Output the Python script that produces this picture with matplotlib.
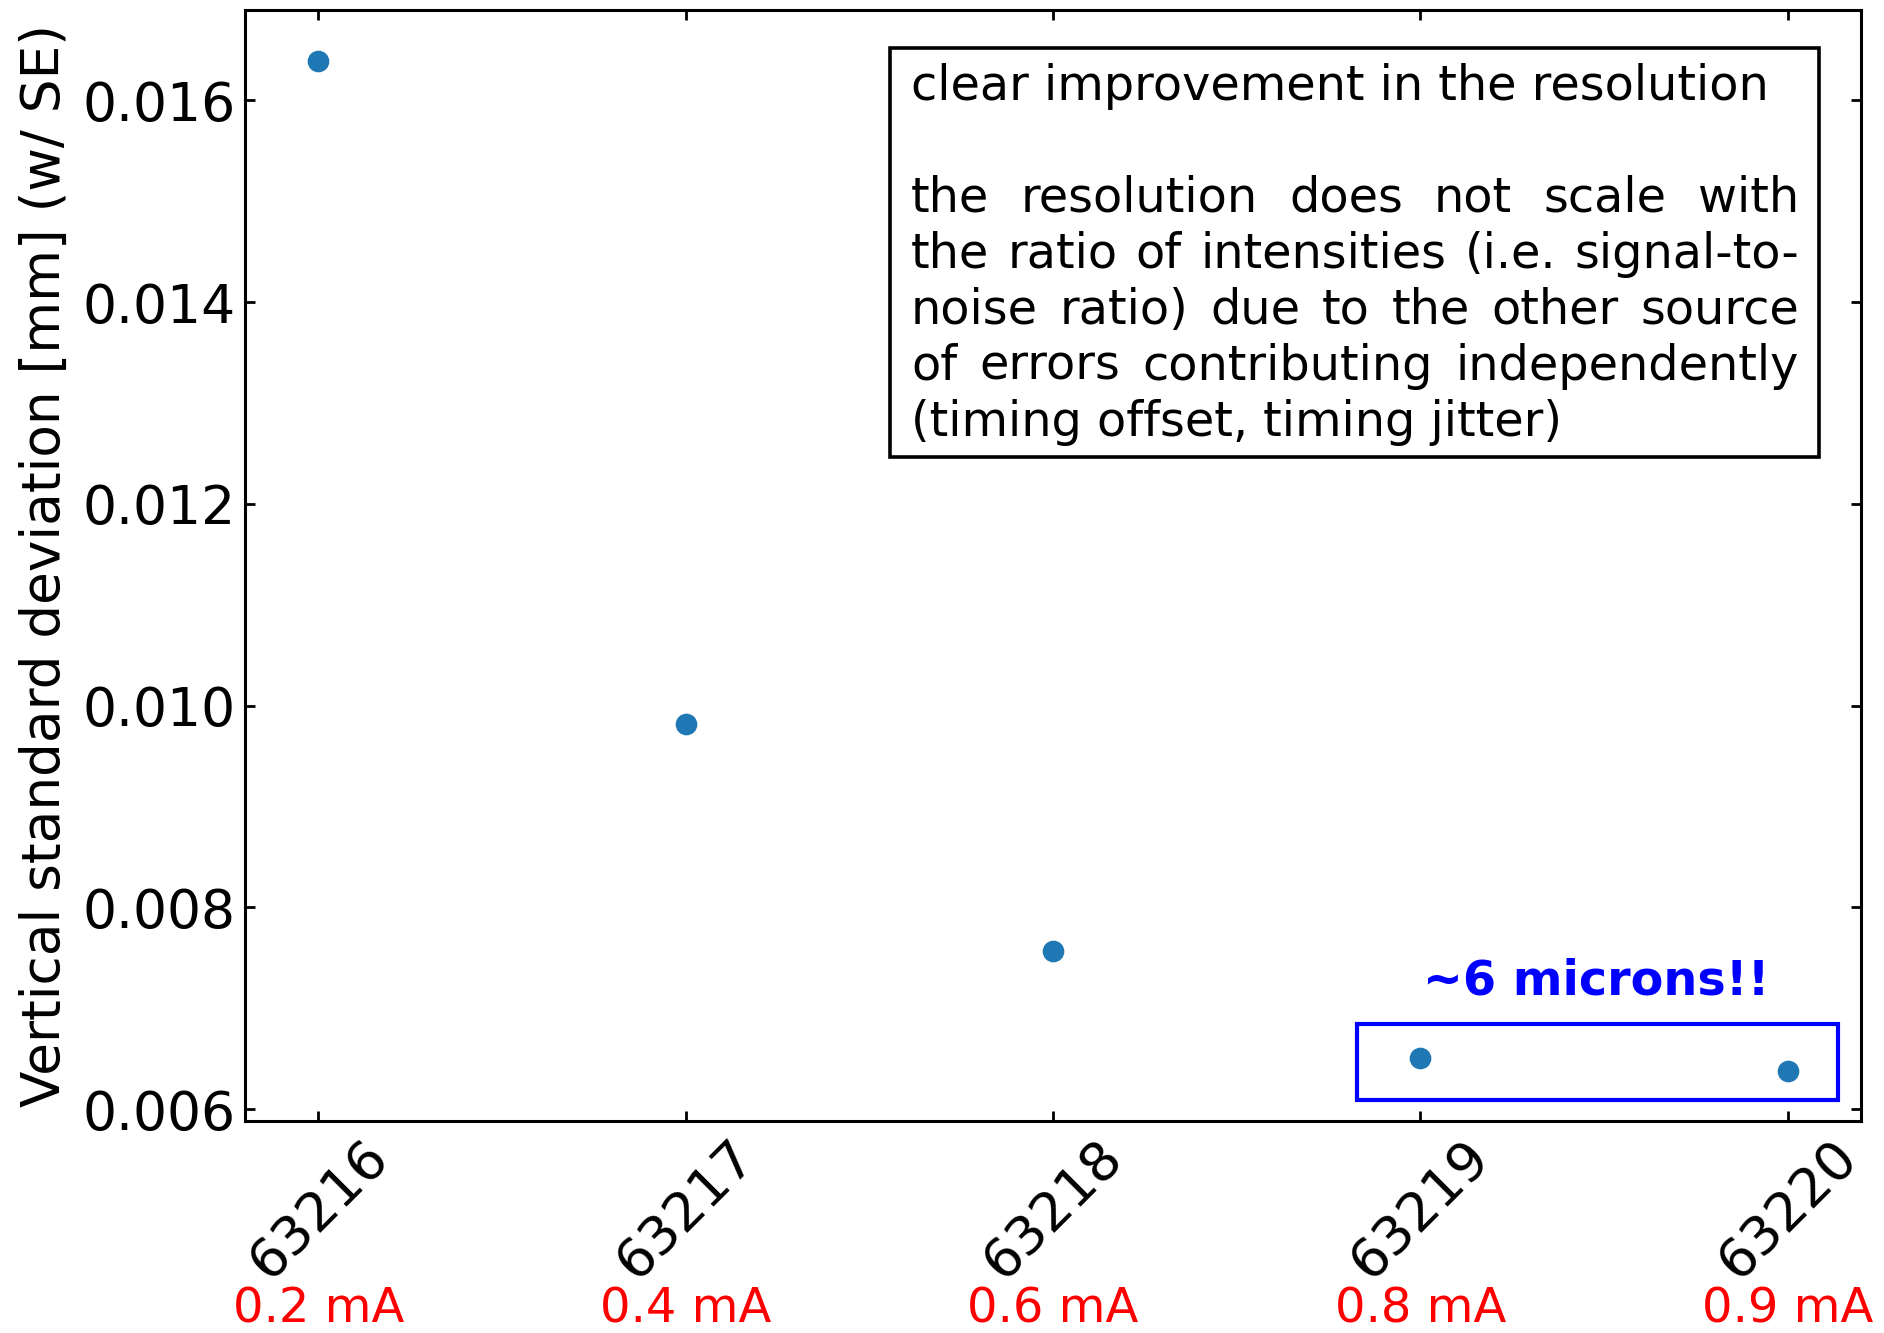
import numpy as np
import matplotlib
matplotlib.use('Agg')
import matplotlib.pyplot as plt
from matplotlib.patches import Rectangle
from matplotlib.transforms import blended_transform_factory

runs = ['63216', '63217', '63218', '63219', '63220']
currents = ['0.2 mA', '0.4 mA', '0.6 mA', '0.8 mA', '0.9 mA']
sigma_y = [0.016395, 0.009816, 0.007567, 0.006502, 0.006383]

note_lines = [
    ('clear improvement in the resolution', False),
    ('', False),
    ('the resolution does not scale with', True),
    ('the ratio of intensities (i.e. signal-to-', True),
    ('noise ratio) due to the other source', True),
    ('of errors contributing independently', True),
    ('(timing offset, timing jitter)', False),
]

W, H = 1884, 1333
fig = plt.figure(figsize=(W / 200, H / 200), dpi=200)
ax = fig.add_axes([245 / W, (H - 1121) / H, 1616 / W, 1111 / H])

x = np.arange(len(runs))
ax.plot(x, sigma_y, 'o', color='#1f77b4', markersize=6.8, linestyle='none')

ax.set_xticks(x)
ax.set_xticklabels(runs, rotation=45, fontsize=19.5)
ax.set_yticks([0.006, 0.008, 0.010, 0.012, 0.014, 0.016])
ax.set_yticklabels(['%.3f' % v for v in ax.get_yticks()], fontsize=19.3)
ax.tick_params(direction='in', top=True, right=True, length=3.6, width=1.0)
for s in ax.spines.values():
    s.set_linewidth(1.1)
ax.set_ylabel('Vertical standard deviation [mm] (w/ SE)', fontsize=19.2)

# beam current under each run number
trans = blended_transform_factory(ax.transData, ax.transAxes)
for xi, c in zip(x, currents):
    ax.text(xi, -0.181, c, color='red', fontsize=17.3, ha='center',
            va='baseline', transform=trans)

# highlight of the two high-current runs
ax.add_patch(Rectangle((2.827, 0.006086), 4.138 - 2.827, 0.006843 - 0.006086,
                       fill=False, edgecolor='blue', linewidth=1.5))
ax.text(3.48, 0.00727, '~6 microns!!', color='blue', fontsize=17.2,
        fontweight='bold', ha='center', va='center')

# comment box with justified text
ax.add_patch(Rectangle((0.399, 0.598), 0.974 - 0.399, 0.966 - 0.598,
                       transform=ax.transAxes, fill=False, edgecolor='black',
                       linewidth=1.3))
x_left, x_right = 0.4121, 0.9616
renderer = fig.canvas.get_renderer()
ax_w = ax.get_window_extent(renderer).width
for k, (line, justify) in enumerate(note_lines):
    if not line:
        continue
    yb = (1121 - (100 + 56 * k)) / 1111
    if not justify:
        ax.text(x_left, yb, line, fontsize=17.2, ha='left', va='baseline',
                transform=ax.transAxes)
        continue
    words = line.split(' ')
    objs = [ax.text(0, yb, w, fontsize=17.2, ha='left', va='baseline',
                    transform=ax.transAxes) for w in words]
    widths = [t.get_window_extent(renderer).width / ax_w for t in objs]
    gap = (x_right - x_left - sum(widths)) / (len(words) - 1)
    pos = x_left
    for t, wd in zip(objs, widths):
        t.set_x(pos)
        pos += wd + gap

fig.savefig('out.png', dpi=200)
